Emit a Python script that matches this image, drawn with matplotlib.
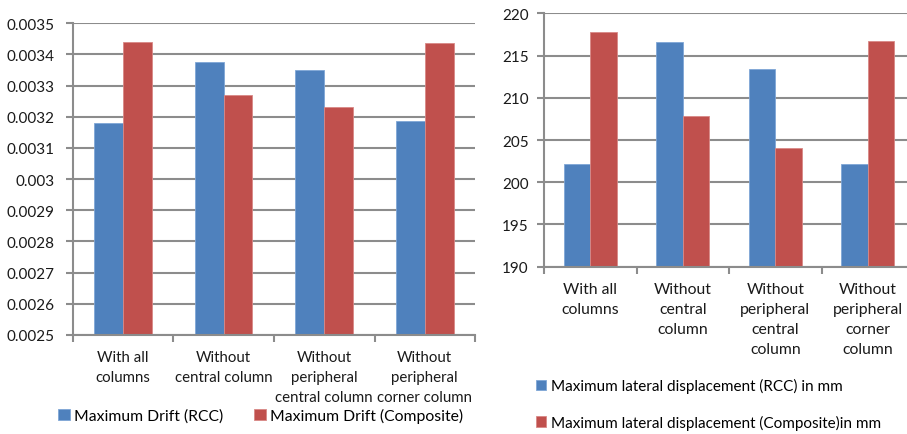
import numpy as np
import matplotlib
matplotlib.use("Agg")
import matplotlib.pyplot as plt
from matplotlib.ticker import FuncFormatter

plt.rcParams['font.family'] = ['Lato', 'DejaVu Sans']

# drift values for each case
drift_labels = ["With all\ncolumns", "Without\ncentral column",
                "Without\nperipheral\ncentral column", "Without\nperipheral\ncorner column"]
drift_rcc = [0.00318, 0.003377, 0.00335, 0.003187]
drift_composite = [0.003441, 0.00327, 0.00323, 0.003438]

# lateral displacement values (mm)
disp_labels = ["With all\ncolumns", "Without\ncentral\ncolumn",
               "Without\nperipheral\ncentral\ncolumn", "Without\nperipheral\ncorner\ncolumn"]
disp_rcc = [202.2, 216.6, 213.4, 202.1]
disp_composite = [217.8, 207.9, 204.0, 216.7]

BLUE = "#4F81BD"
RED = "#C0504D"
GRID = "#8C8C8C"

fig = plt.figure(figsize=(9.07, 4.35), dpi=100)
ax1 = fig.add_axes([0.0802, 0.2276, 0.4436, 0.7166])
ax2 = fig.add_axes([0.5998, 0.3846, 0.408, 0.5825])

bw = 1 / 3.5


def style(ax, labels, ymin, ymax, step, lab_pad, lab_size):
    n = len(labels)
    x = np.arange(n) + 0.5
    ax.set_xlim(0, n)
    ax.set_ylim(ymin, ymax)
    ax.set_yticks(np.arange(ymin, ymax + step / 2, step))
    ax.set_xticks(x)
    ax.set_xticklabels(labels, fontsize=lab_size, color="#1a1a1a", linespacing=1.55)
    ax.set_xticks(np.arange(n + 1), minor=True)
    ax.tick_params(axis="x", which="major", length=0, pad=11)
    ax.tick_params(axis="x", which="minor", length=5, width=1.5, color=GRID, direction="out")
    ax.tick_params(axis="y", length=5, width=1.5, color=GRID, labelsize=11,
                   labelcolor="#1a1a1a", pad=lab_pad)
    ax.yaxis.grid(True, color=GRID, linewidth=1.5)
    ax.set_axisbelow(True)
    for s in ("top", "right"):
        ax.spines[s].set_visible(False)
    for s in ("left", "bottom"):
        ax.spines[s].set_color(GRID)
        ax.spines[s].set_linewidth(1.5)
    return x


x1 = style(ax1, drift_labels, 0.0025, 0.0035, 0.0001, 8, 10.8)
ax1.yaxis.set_major_formatter(FuncFormatter(lambda v, p: f"{v:g}"))
b1 = ax1.bar(x1 - bw / 2, drift_rcc, bw, color=BLUE, edgecolor="#7FA6D6", linewidth=0.6,
             label="Maximum Drift (RCC)")
b2 = ax1.bar(x1 + bw / 2, drift_composite, bw, color=RED, edgecolor="#D98886", linewidth=0.6,
             label="Maximum Drift (Composite)")
fig.legend(handles=[b1, b2], loc="center left", bbox_to_anchor=(0.064, 0.043), ncol=2,
           frameon=False, fontsize=11.3, handlelength=0.75, handleheight=0.75,
           handletextpad=0.25, columnspacing=2.0, borderaxespad=0, borderpad=0)

x2 = style(ax2, disp_labels, 190, 220, 5, 6, 11.3)
c1 = ax2.bar(x2 - bw / 2, disp_rcc, bw, color=BLUE, edgecolor="#7FA6D6", linewidth=0.6,
             label="Maximum lateral displacement (RCC) in mm")
c2 = ax2.bar(x2 + bw / 2, disp_composite, bw, color=RED, edgecolor="#D98886", linewidth=0.6,
             label="Maximum lateral displacement (Composite)in mm")
fig.legend(handles=[c1, c2], loc="upper left", bbox_to_anchor=(0.591, 0.128), ncol=1,
           frameon=False, fontsize=11, handlelength=0.65, handleheight=0.65,
           handletextpad=0.3, labelspacing=1.4, borderaxespad=0, borderpad=0)

fig.savefig("out.png", dpi=100)
